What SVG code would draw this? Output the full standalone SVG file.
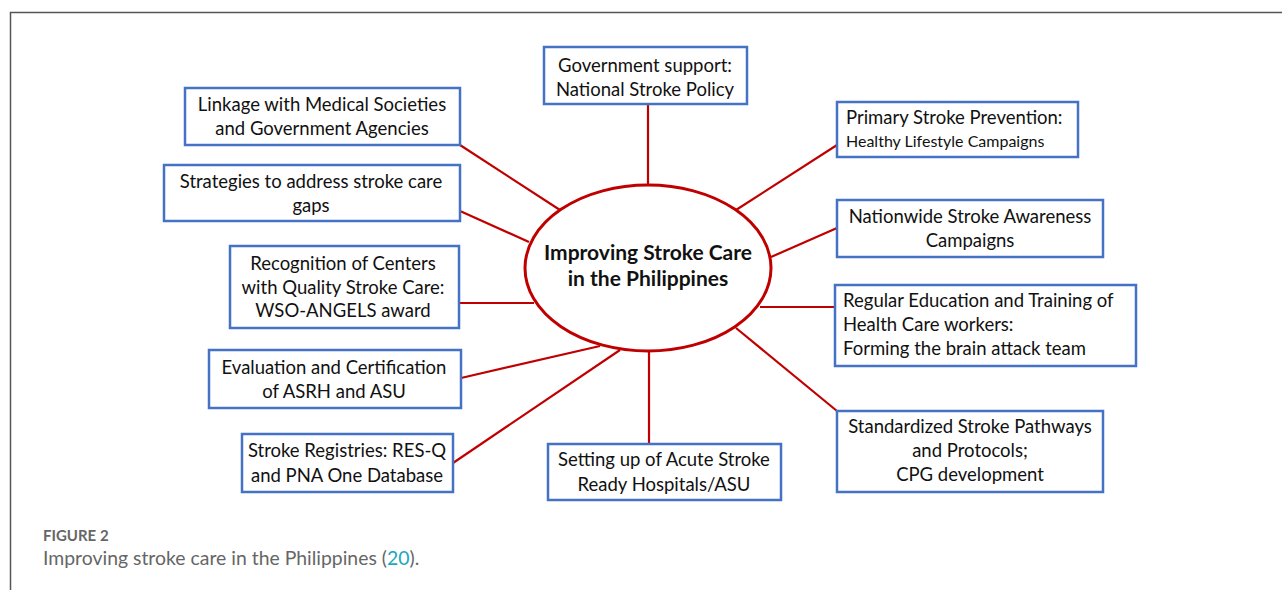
<svg xmlns="http://www.w3.org/2000/svg" width="1282" height="590" viewBox="0 0 1282 590">
<style>
.box{fill:#fff;stroke:#4472C4;stroke-width:2.5}
.t{font-family:Lato,"Open Sans",sans-serif;font-size:18.5px;fill:#111;text-anchor:middle}
.l{text-anchor:start}
.h{font-weight:bold;font-size:21px}
.s{font-size:16px}
.c line{stroke:#C00000;stroke-width:2.2}
</style>
<rect width="1282" height="590" fill="#fff"/>
<path d="M10.5 590 V12.5 H1282" fill="none" stroke="#555" stroke-width="1.5"/>
<g class="c" id="connectors">
<line x1="648" y1="104" x2="648" y2="185"/>
<line x1="460" y1="145" x2="560" y2="210"/>
<line x1="837" y1="145" x2="736" y2="210"/>
<line x1="460" y1="211" x2="529" y2="242"/>
<line x1="837" y1="228" x2="771" y2="257"/>
<line x1="459" y1="303" x2="534" y2="303"/>
<line x1="760" y1="307" x2="835" y2="307"/>
<line x1="461" y1="378" x2="600" y2="346"/>
<line x1="453" y1="463" x2="620" y2="350"/>
<line x1="649" y1="352" x2="649" y2="444"/>
<line x1="736" y1="328" x2="837" y2="411"/>
</g>
<g id="center">
<ellipse cx="648" cy="268" rx="123" ry="83" fill="#fff" stroke="#C00000" stroke-width="3"/>
<text class="t h" x="648" y="260">Improving Stroke Care</text>
<text class="t h" x="648" y="286">in the Philippines</text>
</g>
<g id="gov"><rect class="box" x="544" y="47" width="203" height="57"/>
<text class="t" x="645" y="72">Government support:</text><text class="t" x="645" y="96">National Stroke Policy</text></g>
<g id="linkage"><rect class="box" x="185" y="88" width="275" height="57"/>
<text class="t" x="322" y="111">Linkage with Medical Societies</text><text class="t" x="322" y="135">and Government Agencies</text></g>
<g id="primary"><rect class="box" x="837" y="102" width="241" height="55"/>
<text class="t l" x="846" y="124">Primary Stroke Prevention:</text><text class="t l s" x="846" y="147">Healthy Lifestyle Campaigns</text></g>
<g id="strategies"><rect class="box" x="164" y="165" width="296" height="56"/>
<text class="t" x="311" y="188">Strategies to address stroke care</text><text class="t" x="311" y="212">gaps</text></g>
<g id="nationwide"><rect class="box" x="837" y="200" width="266" height="57"/>
<text class="t" x="970" y="223">Nationwide Stroke Awareness</text><text class="t" x="970" y="247">Campaigns</text></g>
<g id="recognition"><rect class="box" x="230" y="246" width="229" height="82"/>
<text class="t" x="343" y="270">Recognition of Centers</text><text class="t" x="343" y="294">with Quality Stroke Care:</text><text class="t" x="343" y="317">WSO-ANGELS award</text></g>
<g id="regular"><rect class="box" x="835" y="285" width="301" height="81"/>
<text class="t l" x="843" y="307">Regular Education and Training of</text><text class="t l" x="843" y="331">Health Care workers:</text><text class="t l" x="843" y="355">Forming the brain attack team</text></g>
<g id="evaluation"><rect class="box" x="209" y="350" width="252" height="58"/>
<text class="t" x="334" y="374">Evaluation and Certification</text><text class="t" x="334" y="398">of ASRH and ASU</text></g>
<g id="registries"><rect class="box" x="242" y="434" width="211" height="58"/>
<text class="t" x="347" y="457">Stroke Registries: RES-Q</text><text class="t" x="347" y="482">and PNA One Database</text></g>
<g id="settingup"><rect class="box" x="548" y="444" width="233" height="56"/>
<text class="t" x="664" y="466">Setting up of Acute Stroke</text><text class="t" x="664" y="491">Ready Hospitals/ASU</text></g>
<g id="standardized"><rect class="box" x="837" y="411" width="266" height="81"/>
<text class="t" x="970" y="433">Standardized Stroke Pathways</text><text class="t" x="970" y="457">and Protocols;</text><text class="t" x="970" y="481">CPG development</text></g>
<g id="caption">
<text x="43" y="541" font-family="Lato,'Open Sans',sans-serif" font-size="15" font-weight="bold" fill="#666">FIGURE 2</text>
<text x="43" y="565" font-family="Lato,'Open Sans',sans-serif" font-size="19.4" fill="#666">Improving stroke care in the Philippines (<tspan fill="#1BA6C0">20</tspan>).</text>
</g>
</svg>
